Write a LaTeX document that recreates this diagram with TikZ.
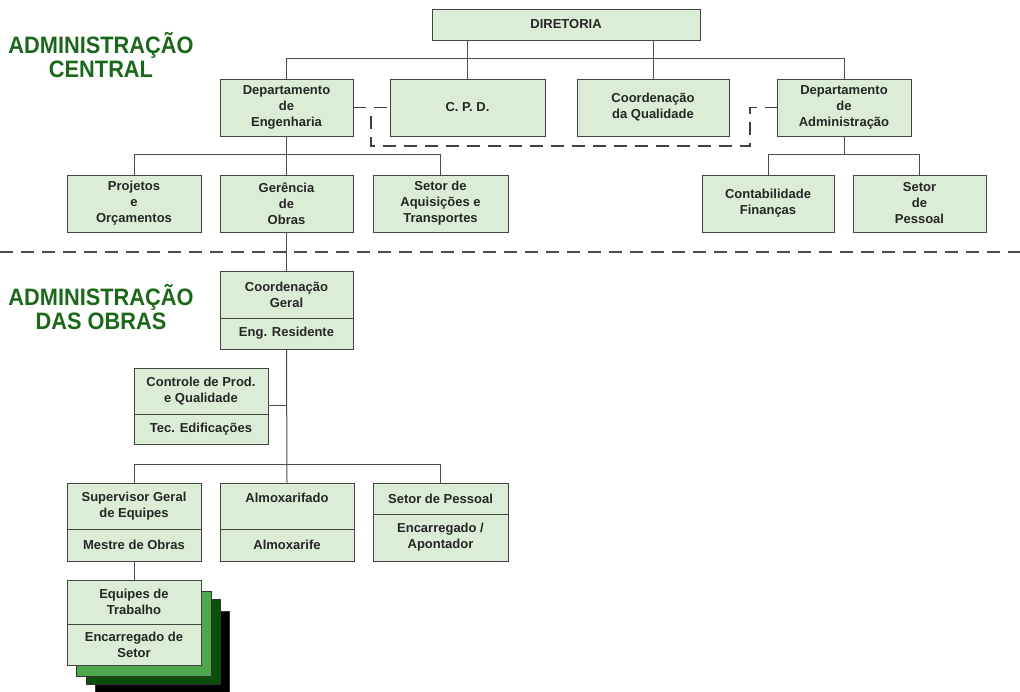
\documentclass[tikz,border=0pt]{standalone}
\usepackage{fontspec}
\setmainfont{Liberation Sans}
\definecolor{boxfill}{HTML}{DBEDD7}
\definecolor{boxline}{HTML}{444444}
\definecolor{titlegreen}{HTML}{1B681B}
\definecolor{midgreen}{HTML}{4DA84D}
\definecolor{darkgreen}{HTML}{0B4F0B}
\tikzset{
 orgbox/.style={draw=boxline, fill=boxfill, line width=0.9pt, align=center,
   font=\fontsize{13}{16}\selectfont\bfseries, inner sep=0pt, text=black!85},
 conn/.style={draw=black!70, line width=1pt},
 dashconn/.style={draw=black!75, line width=1.2pt, dash pattern=on 13pt off 8pt},
 titletext/.style={text=titlegreen, font=\fontsize{22}{23.5}\selectfont\bfseries, align=center},
 layer/.style={draw=black!80, line width=0.6pt},
}
\newcommand{\obox}[6]{\node[orgbox, minimum width={(#4-#2)*1pt}, minimum height={(#5-#3)*1pt}] (#1) at ({(#2+#4)/2},{(#3+#5)/2}) {#6};}
\begin{document}
\begin{tikzpicture}[x=1pt,y=-1pt]
\useasboundingbox (0,0) rectangle (1020,692);
% titles
\node[titletext] (t1) at (101,55) {\scalebox{0.99}[1.08]{ADMINISTRAÇÃO}\\\scalebox{0.99}[1.08]{CENTRAL}};
\node[titletext] (t2) at (101,307) {\scalebox{0.99}[1.08]{ADMINISTRAÇÃO}\\\scalebox{0.99}[1.08]{DAS OBRAS}};
% stacked layers behind Equipes
\filldraw[layer, fill=black] (95,611) rectangle (229,700);
\filldraw[layer, fill=darkgreen] (86,599) rectangle (220,684);
\filldraw[layer, fill=midgreen] (76,591) rectangle (211,676);
% boxes
\obox{dir}{432}{9}{700}{40}{DIRETORIA}
\obox{eng}{220}{79}{353}{136}{Departamento\\de\\Engenharia}
\obox{cpd}{390}{79}{545}{136}{C. P. D.}
\obox{cq}{577}{79}{729}{136}{Coordenação\\da Qualidade}
\obox{adm}{777}{79}{911}{136}{Departamento\\de\\Administração}
\obox{proj}{67}{175}{201}{232}{Projetos\\e\\Orçamentos}
\obox{ger}{220}{175}{353}{232}{Gerência\\de\\Obras}
\obox{aqu}{373}{175}{508}{232}{Setor de\\Aquisições e\\Transportes}
\obox{cont}{702}{175}{834}{232}{Contabilidade\\Finanças}
\obox{pes}{853}{175}{986}{232}{Setor\\de\\Pessoal}
\obox{cgT}{220}{271}{353}{318}{Coordenação\\Geral}
\obox{cgB}{220}{318}{353}{349}{Eng. Residente}
\obox{ctT}{134}{368}{268}{414}{Controle de Prod.\\e Qualidade}
\obox{ctB}{134}{414}{268}{444}{Tec. Edificações}
\obox{supT}{67}{483}{201}{529}{Supervisor Geral\\de Equipes}
\obox{supB}{67}{529}{201}{561}{Mestre de Obras}
\obox{almT}{220}{483}{354}{529}{Almoxarifado\\\mbox{}}
\obox{almB}{220}{529}{354}{561}{Almoxarife}
\obox{spT}{373}{483}{508}{514}{Setor de Pessoal}
\obox{spB}{373}{514}{508}{561}{Encarregado /\\Apontador}
\obox{eqT}{67}{580}{201}{624}{Equipes de\\Trabalho}
\obox{eqB}{67}{624}{201}{665}{Encarregado de\\Setor}
% connectors level 1
\draw[conn] (eng.north) -- (eng.north |- 0,59) -| (adm.north);
\draw[conn] (cpd.north) -- (cpd.north |- dir.south);
\draw[conn] (cq.north) -- (cq.north |- dir.south);
% level 2
\draw[conn] (eng.south) -- (ger.north);
\draw[conn] (proj.north) -- (proj.north |- 0,155) -| (aqu.north);
\draw[conn] (adm.south) -- (adm.south |- 0,155);
\draw[conn] (cont.north) -- (cont.north |- 0,155) -| (pes.north);
% obras
\draw[conn] (ger.south) -- (cgT.north);
\draw[conn] (cgB.south) -- (almT.north);
\draw[conn] (ctT.east |- 0,406) -- (cgB.south |- 0,406);
\draw[conn] (supT.north) -- (supT.north |- 0,464) -| (spT.north);
\draw[conn] (supB.south) -- (eqT.north);
% dashed
\draw[dashconn] (eng.east) -- (cpd.west);
\coordinate (dj) at (371,116);
\coordinate (dk) at (750,146);
\draw[dashconn] (dj) |- (dk) |- (adm.west);
\coordinate (sepL) at (0,252);
\coordinate (sepR) at (1020,252);
\draw[dashconn, draw=black!70] (sepL) -- (sepR);
\end{tikzpicture}
\end{document}
